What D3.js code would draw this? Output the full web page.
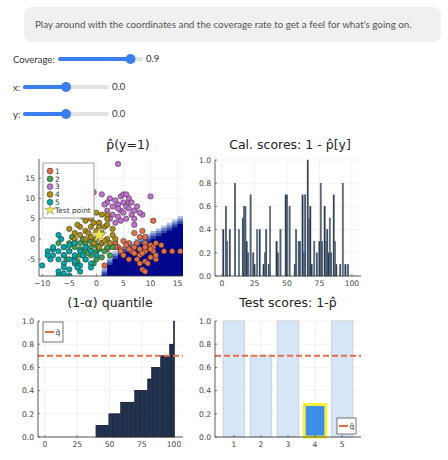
<!DOCTYPE html>
<html><head><meta charset="utf-8">
<script src="https://cdn.jsdelivr.net/npm/d3@7"></script>
<style>body{margin:0;background:#fff}svg text{font-family:"DejaVu Sans",sans-serif}</style>
</head><body><svg id="c" width="448" height="460"></svg>
<script>
// data
const palette = ["#E36F47","#3EA44E","#C371D2","#AC8E18","#00A9AD"];
const cls1 = [[10.5,4.5],[8.5,2],[7,1.5],[8,0.5],[5,-0.5],[4,-2],[3.5,-1],[6,-1],[7,-2],[8,-2.5],[9,-1],[10,-1.5],[10.5,-2],[11,-1],[12,-1.5],[9,-3],[8,-4],[7.5,-5],[8,-6],[9,-5.5],[10,-4.5],[11,-5],[9.5,-6],[8.5,-7.5],[6,-5],[5,-4],[6.5,-3],[7,-3.5],[14,-3],[15.5,-3],[10.5,-3],[12.5,-3],[9,-2],[4.5,-2.5],[3.5,-2],[1.5,-6.5],[9,-8],[11,-4],[6,-2.5],[7.5,-1],[10,-2.5],[9,0.5],[4.5,-3],[5.5,-1.5],[8.5,-3.5],[2,-2.5]];
const cls2 = [[-3,-1],[-4,-2],[-5,-3],[-2,-3],[-1,-2],[0,-3],[1,-1],[-2,-1],[-3,-4],[-1,-4],[0,-1.5],[-4,-4.5],[-6,-2],[-2,-5],[-5,-1],[-3,-2.5],[1.5,-3],[2,-2],[-1,-0.5],[0,-5],[2.5,-4],[-6,-4],[-7,-1],[-2.5,0],[-4.5,0.5],[0.5,-2.5],[-1.5,-3.5],[-3.5,-5.5],[1,-4.5],[-0.5,-6],[3,-2],[-5.5,-5]];
const cls3 = [[4,18.5],[-0.5,11.5],[1,11],[2.5,10],[4.5,10.5],[5,11],[5.5,11],[6,9],[5.5,8],[4,8.5],[3,8],[2,9],[1.5,8.5],[3.5,9.5],[4.5,7],[5,6.5],[6.5,6],[7,7],[8.5,6],[10,10.5],[7.5,8],[6,10],[3,6],[2.5,5],[4,5.5],[5.5,5],[6,7.5],[4,7.5],[7,5],[8,6.5],[3.5,4],[6.5,9],[2,7],[5,9],[7,3.5],[4.5,4.5]];
const cls4 = [[0,6.5],[-1,5],[-2,4.5],[0.5,4],[1.5,3],[2,5],[-3,3],[-1,3],[0,2],[1,1.5],[-2,2],[-4,1.5],[-5,2.5],[-3,1],[-1,0.5],[0,0],[2,0],[3,1],[2.5,-1],[1,-1],[-0.5,-1],[-2,0],[-1.5,1.5],[0.5,3],[-0.5,4],[1,6],[2,3.5],[-2.5,5.5],[3,2.5],[-4,0],[1.5,-0.5],[0.5,-2],[-3.5,3.5],[3.5,0],[2,6],[-1,7]];
const cls5 = [[-10,-6.5],[-8,-2.5],[-7,1],[-7,-3],[-6,-4],[-5,-5],[-4,-6],[-3,-6.5],[-6,-6],[-7,-5],[-8,-4],[-5,-3],[-3,-3],[-4,-4],[-2,-5],[-1,-6],[-6,-7],[-5,-7.5],[-4,-5.5],[-7,-8],[-7,-9],[-6,-8.5],[-9,-3],[-8,-2],[-4,-1],[-2,-2],[0,-4],[-1,-7],[-3,-8],[-5,-9],[-8.5,-5],[-6,-2],[-9,-4],[-5,-1.5],[-2.5,-4],[-6.5,0],[-3.5,-7],[-1,-3]];
const testPoint = [0.5, 1];
const edgeX = [0.5,1,2,3,4,5,6,7,8,9,10,11,12,13,14,15,16.2];
const edgeY = [-9.1,-7,-4.5,-3,-2,-1.3,-0.6,0,0.6,1.3,2,2.6,3.3,4,4.8,5.6,6.5];
const bandDrop = [0,0.6,1.2,1.9];
const bandColors = ["#a9bbe2","#6c84c9","#2f47a6","#00078a"];
// calibration scores by index (1..100), zero where no bar
const calIdx = [1,3,4,6,10,13,16,17,18,19,20,22,24,25,27,29,32,33,34,36,37,42,43,45,49,50,52,56,57,59,60,62,63,64,66,67,68,69,71,73,75,76,77,79,80,81,82,83,84,86,87,88,91,93,95,97];
const calVal = [0.4,0.6,0.3,0.4,0.8,0.4,0.5,0.6,0.6,0.3,0.2,0.7,0.2,0.1,0.4,0.4,0.1,0.2,0.4,0.1,0.6,0.3,0.2,0.4,0.7,0.7,0.6,0.1,0.4,0.3,0.3,0.7,0.2,0.7,1.0,0.5,0.6,0.1,0.3,0.2,0.3,0.8,0.3,0.6,0.3,0.4,0.2,0.5,0.2,0.7,0.3,0.1,0.1,0.8,0.1,0.1];
const qLevels = [0,0.1,0.2,0.3,0.4,0.5,0.6,0.7,0.8,1.0];
const qCounts = [39,10,9,11,10,3,7,7,3,1];
const qhat = 0.7;
const testLabels = [1,2,3,4,5];
const testScores = [1.0,0.7,1.0,0.28,1.0];
const testHighlight = 4;
const sliders = [{label:"Coverage:",value:0.9,min:0,max:1,text:"0.9"},{label:"x:",value:0,min:-10,max:10,text:"0.0"},{label:"y:",value:0,min:-10,max:10,text:"0.0"}];

const svg = d3.select("#c");

// text box
svg.append("rect").attr("x",24).attr("y",7).attr("width",417).attr("height",35).attr("rx",8).attr("fill","#f0f0f0");
svg.append("text").attr("x",35).attr("y",28).attr("font-size",9.8).attr("fill","#555")
  .style("font-family","Lato").text("Play around with the coordinates and the coverage rate to get a feel for what's going on.");

// sliders
const sl = [{x0:60,x1:141,y:59,lx:13},{x0:25,x1:107,y:87,lx:13},{x0:25,x1:107,y:114,lx:13}];
sliders.forEach((s,i) => {
  const g = sl[i];
  const sx = d3.scaleLinear().domain([s.min,s.max]).range([g.x0+3,g.x1-3]);
  svg.append("text").attr("x",g.lx).attr("y",g.y+4).attr("font-size",9.5).attr("fill","#333").style("font-family","Lato").text(s.label);
  svg.append("line").attr("x1",g.x0).attr("x2",g.x1).attr("y1",g.y).attr("y2",g.y).attr("stroke","#e3e3e3").attr("stroke-width",4).attr("stroke-linecap","round");
  svg.append("line").attr("x1",g.x0).attr("x2",sx(s.value)).attr("y1",g.y).attr("y2",g.y).attr("stroke","#3b7ef0").attr("stroke-width",4).attr("stroke-linecap","round");
  svg.append("circle").attr("cx",sx(s.value)).attr("cy",g.y).attr("r",5).attr("fill","#3b7ef0");
  svg.append("text").attr("x",g.x1+5).attr("y",g.y+3).attr("font-size",9.5).attr("fill","#333").style("font-family","Lato").text(s.text);
});

function frame(x0,x1,y0,y1,xs,ys,xt,yt){
  const g = svg.append("g");
  g.selectAll(".gx").data(xt).join("line").attr("x1",d=>xs(d)).attr("x2",d=>xs(d)).attr("y1",y0).attr("y2",y1).attr("stroke","#ebebeb").attr("stroke-width",0.6);
  g.selectAll(".gy").data(yt).join("line").attr("y1",d=>ys(d)).attr("y2",d=>ys(d)).attr("x1",x0).attr("x2",x1).attr("stroke","#ebebeb").attr("stroke-width",0.6);
  return g;
}
function axes(x0,x1,y0,y1,xs,ys,xt,yt,yfmt,xfmt){
  const g = svg.append("g");
  g.append("line").attr("x1",x0).attr("x2",x1).attr("y1",y1).attr("y2",y1).attr("stroke","#333").attr("stroke-width",0.8);
  g.append("line").attr("x1",x0).attr("x2",x0).attr("y1",y0).attr("y2",y1).attr("stroke","#333").attr("stroke-width",0.8);
  xt.forEach(d => {
    g.append("line").attr("x1",xs(d)).attr("x2",xs(d)).attr("y1",y1).attr("y2",y1-2).attr("stroke","#333").attr("stroke-width",0.6);
    g.append("text").attr("x",xs(d)).attr("y",y1+10).attr("text-anchor","middle").attr("font-size",7.6).attr("fill","#444").text(xfmt?xfmt(d):d);
  });
  yt.forEach(d => {
    g.append("line").attr("x1",x0).attr("x2",x0+2).attr("y1",ys(d)).attr("y2",ys(d)).attr("stroke","#333").attr("stroke-width",0.6);
    g.append("text").attr("x",x0-4).attr("y",ys(d)+2.7).attr("text-anchor","end").attr("font-size",7.6).attr("fill","#444").text(yfmt?yfmt(d):d);
  });
}
function title(x,y,t){ svg.append("text").attr("x",x).attr("y",y).attr("text-anchor","middle").attr("font-size",12.5).attr("fill","#222").text(t); }

// panel 1
{
  const x0=39,x1=183,y0=159,y1=276;
  const xs = d3.scaleLinear().domain([-10.6,16.0]).range([x0,x1]);
  const ys = d3.scaleLinear().domain([-9.1,19.7]).range([y1,y0]);
  const xt=[-10,-5,0,5,10,15], yt=[-5,0,5,10,15];
  frame(x0,x1,y0,y1,xs,ys,xt,yt);
  svg.append("clipPath").attr("id","cp1").append("rect").attr("x",x0).attr("y",y0).attr("width",x1-x0).attr("height",y1-y0);
  const hg = svg.append("g").attr("clip-path","url(#cp1)");
  const edge = edgeX.map((x,i)=>[x,edgeY[i]]);
  bandDrop.forEach((dy,i) => {
    const pts = edge.map(([x,y],j) => [x + (j===0?dy*0.3:0), y-dy]);
    const area = d3.area().x(d=>xs(d[0])).y0(ys(-9.1)).y1(d=>ys(d[1])).curve(d3.curveStepAfter);
    hg.append("path").attr("d",area(pts.concat([[16.5,pts[pts.length-1][1]]]))).attr("fill",bandColors[i]);
  });
  const groups=[cls1,cls2,cls3,cls4,cls5];
  groups.forEach((pts,k) => {
    hg.selectAll(null).data(pts).join("circle").attr("cx",d=>xs(d[0])).attr("cy",d=>ys(d[1])).attr("r",2.7)
      .attr("fill",palette[k]).attr("stroke","#222").attr("stroke-width",0.5);
  });
  hg.append("path").attr("d",d3.symbol(d3.symbolStar,70)()).attr("transform",`translate(${xs(testPoint[0])},${ys(testPoint[1])})`)
    .attr("fill","#f3e64a").attr("stroke","#666").attr("stroke-width",0.4);
  axes(x0,x1,y0,y1,xs,ys,xt,yt,null,d=>d<0?"\u2212"+(-d):d);
  // legend
  const lg = svg.append("g");
  lg.append("rect").attr("x",43).attr("y",163).attr("width",51).attr("height",55).attr("fill","#fff").attr("stroke","#888").attr("stroke-width",0.8);
  ["1","2","3","4","5"].forEach((t,i)=>{
    lg.append("circle").attr("cx",50).attr("cy",171+i*7.8).attr("r",2.9).attr("fill",palette[i]).attr("stroke","#222").attr("stroke-width",0.5);
    lg.append("text").attr("x",55).attr("y",173.8+i*7.8).attr("font-size",7.4).attr("fill","#333").text(t);
  });
  lg.append("path").attr("d",d3.symbol(d3.symbolStar,34)()).attr("transform","translate(50,210)").attr("fill","#f3e64a").attr("stroke","#666").attr("stroke-width",0.4);
  lg.append("text").attr("x",55).attr("y",212.8).attr("font-size",7.4).attr("fill","#333").text("Test point");
  title(128,149,"p\u0302(y=1)");
}

// panel 2
{
  const x0=215,x1=361,y0=160,y1=276;
  const xs = d3.scaleLinear().domain([-5.4,107]).range([x0,x1]);
  const ys = d3.scaleLinear().domain([0,1]).range([y1,y0]);
  const xt=[0,25,50,75,100], yt=[0,0.2,0.4,0.6,0.8,1.0];
  frame(x0,x1,y0,y1,xs,ys,xt,yt);
  svg.append("g").selectAll("rect").data(calIdx).join("rect")
    .attr("x",d=>xs(d-0.5)).attr("width",xs(1)-xs(0)).attr("y",(d,i)=>ys(calVal[i])).attr("height",(d,i)=>y1-ys(calVal[i]))
    .attr("fill",(d,i)=>i%3===2?"#4a5f7a":"#142c4c").attr("stroke","#55606e").attr("stroke-width",0.5);
  axes(x0,x1,y0,y1,xs,ys,xt,yt,d=>d.toFixed(1));
  title(290,149,"Cal. scores: 1 - p\u0302[y]");
}

// panel 3
{
  const x0=38,x1=183,y0=321,y1=437;
  const xs = d3.scaleLinear().domain([-5.4,107]).range([x0,x1]);
  const ys = d3.scaleLinear().domain([0,1]).range([y1,y0]);
  const xt=[0,25,50,75,100], yt=[0,0.2,0.4,0.6,0.8,1.0];
  frame(x0,x1,y0,y1,xs,ys,xt,yt);
  const sorted = [];
  qLevels.forEach((v,i)=>{ for(let k=0;k<qCounts[i];k++) sorted.push(v); });
  svg.append("g").selectAll("rect").data(sorted).join("rect")
    .attr("x",(d,i)=>xs(i+0.5)).attr("width",xs(1)-xs(0)).attr("y",d=>ys(d)).attr("height",d=>y1-ys(d))
    .attr("fill","#1c3d66").attr("stroke","#1a1a2a").attr("stroke-width",0.5);
  svg.append("line").attr("x1",x0).attr("x2",x1).attr("y1",ys(qhat)).attr("y2",ys(qhat)).attr("stroke","#E36F47").attr("stroke-width",2).attr("stroke-dasharray","6,3");
  axes(x0,x1,y0,y1,xs,ys,xt,yt,d=>d.toFixed(1));
  svg.append("rect").attr("x",43).attr("y",322).attr("width",20).attr("height",20).attr("fill","#fff").attr("stroke","#555").attr("stroke-width",0.8);
  svg.append("line").attr("x1",45).attr("x2",54).attr("y1",332).attr("y2",332).attr("stroke","#E36F47").attr("stroke-width",2);
  svg.append("text").attr("x",55.5).attr("y",335).attr("font-size",7.5).attr("fill","#333").text("q\u0302");
  title(110,307,"(1-\u03b1) quantile");
}

// panel 4
{
  const x0=215,x1=361,y0=321,y1=437;
  const xs = d3.scaleLinear().domain([0.3,5.7]).range([x0,x1]);
  const ys = d3.scaleLinear().domain([0,1]).range([y1,y0]);
  const yt=[0,0.2,0.4,0.6,0.8,1.0];
  frame(x0,x1,y0,y1,xs,ys,testLabels,yt);
  svg.append("g").selectAll("rect").data(testLabels).join("rect")
    .attr("x",d=>xs(d-0.4)).attr("width",xs(0.8)-xs(0)).attr("y",(d,i)=>ys(testScores[i])).attr("height",(d,i)=>y1-ys(testScores[i]))
    .attr("fill",d=>d===testHighlight?"#3d8ee8":"#d4e5f8").attr("fill-opacity",d=>d===testHighlight?1:0.95)
    .attr("stroke",d=>d===testHighlight?"#f5f03a":"#c8c8c8").attr("stroke-width",d=>d===testHighlight?3:0.8);
  svg.append("line").attr("x1",x0).attr("x2",x1).attr("y1",ys(qhat)).attr("y2",ys(qhat)).attr("stroke","#E36F47").attr("stroke-width",2).attr("stroke-dasharray","6,3");
  axes(x0,x1,y0,y1,xs,ys,testLabels,yt,d=>d.toFixed(1));
  svg.append("rect").attr("x",337).attr("y",418).attr("width",19).attr("height",16).attr("fill","#fff").attr("stroke","#555").attr("stroke-width",0.8);
  svg.append("line").attr("x1",339).attr("x2",348).attr("y1",426).attr("y2",426).attr("stroke","#E36F47").attr("stroke-width",2);
  svg.append("text").attr("x",349.5).attr("y",429).attr("font-size",7.5).attr("fill","#333").text("q\u0302");
  title(288,307,"Test scores: 1-p\u0302");
}
</script></body></html>
